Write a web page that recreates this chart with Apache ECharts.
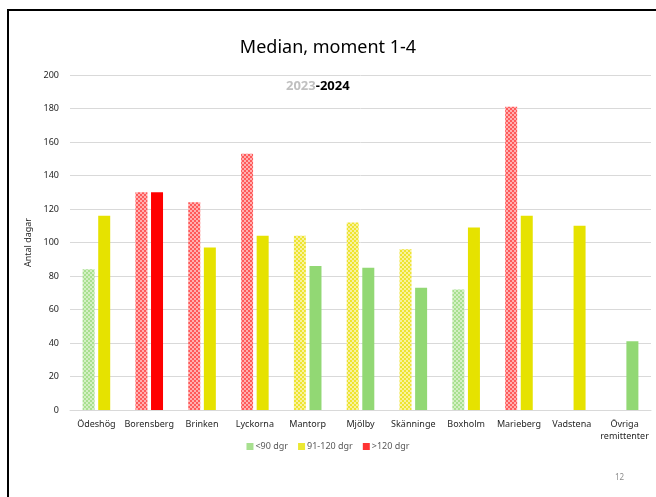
<!DOCTYPE html>
<html>
<head>
<meta charset="utf-8">
<script src="https://cdn.jsdelivr.net/npm/echarts@6/dist/echarts.min.js"></script>
<style>
    html, body { margin: 0; padding: 0; background: #fff; }
    #main { width: 656px; height: 497px; }
</style>
</head>
<body>
<div id="main"></div>
<script>
    // kategorier och värden (median antal dagar)
    const categories = ['Ödeshög', 'Borensberg', 'Brinken', 'Lyckorna', 'Mantorp', 'Mjölby',
        'Skänninge', 'Boxholm', 'Marieberg', 'Vadstena', 'Övriga\nremittenter'];
    const values2023 = [84, 130, 124, 153, 104, 112, 96, 72, 181, null, null];
    const values2024 = [116, 130, 97, 104, 86, 85, 73, 109, 116, 110, 41];
    const legendNames = ['<90 dgr', '91-120 dgr', '>120 dgr'];
    const yTicks = { min: 0, max: 200, interval: 20 };

    const FONT = '"Noto Sans", sans-serif';
    const colors = { green: '#92d874', yellow: '#e6e200', red: '#ff0000' };
    const lightColors = {
        green: ['#a8e090', '#d4f0c4'],
        yellow: ['#eee430', '#f8f2a0'],
        red: ['#ff5a5a', '#ffb0b0']
    };

    function level(v) {
        if (v < 90) return 'green';
        if (v <= 120) return 'yellow';
        return 'red';
    }

    // rutmönster för 2023-staplarna
    function pattern(key) {
        let c = document.createElement('canvas');
        c.width = 4;
        c.height = 4;
        let ctx = c.getContext('2d');
        ctx.fillStyle = lightColors[key][0];
        ctx.fillRect(0, 0, 4, 4);
        ctx.fillStyle = lightColors[key][1];
        ctx.fillRect(0, 0, 2, 2);
        ctx.fillRect(2, 2, 2, 2);
        return { image: c, repeat: 'repeat' };
    }

    const patterns = {
        green: pattern('green'),
        yellow: pattern('yellow'),
        red: pattern('red')
    };

    let data2023 = values2023.map(function (v) {
        if (v === null) return '-';
        return { value: v, itemStyle: { color: patterns[level(v)] } };
    });
    let data2024 = values2024.map(function (v) {
        if (v === null) return '-';
        return { value: v, itemStyle: { color: colors[level(v)] } };
    });

    let myChart = echarts.init(document.getElementById('main'));

    myChart.setOption({
        animation: false,
        textStyle: { fontFamily: FONT },
        title: {
            text: 'Median, moment 1-4',
            left: 'center',
            top: 34,
            textStyle: {
                fontFamily: FONT,
                fontSize: 18,
                fontWeight: 'normal',
                color: '#000'
            }
        },
        graphic: [
            {
                type: 'rect',
                shape: { x: 8, y: 10, width: 700, height: 600 },
                style: { fill: 'none', stroke: '#000', lineWidth: 2 },
                silent: true
            },
            {
                type: 'text',
                left: 286,
                top: 80,
                style: {
                    text: '{a|2023}{b|-2024}',
                    rich: {
                        a: { fontFamily: FONT, fontSize: 13, fontWeight: 'bold', fill: '#c0c0c0' },
                        b: { fontFamily: FONT, fontSize: 13, fontWeight: 'bold', fill: '#000' }
                    }
                }
            },
            {
                type: 'text',
                left: 615,
                top: 474,
                style: { text: '12', fontFamily: FONT, fontSize: 8, fill: '#8c8c8c' }
            }
        ],
        legend: {
            data: legendNames,
            top: 437,
            left: 'center',
            icon: 'rect',
            itemWidth: 7,
            itemHeight: 7,
            itemGap: 10,
            textStyle: { fontFamily: FONT, fontSize: 9, color: '#595959', padding: [0, 0, 0, -3] }
        },
        grid: {
            left: 70,
            right: 5,
            top: 75,
            bottom: 87
        },
        xAxis: {
            type: 'category',
            data: categories,
            axisLine: { lineStyle: { color: '#d9d9d9', width: 1 } },
            axisTick: { show: false },
            axisLabel: {
                interval: 0,
                fontFamily: FONT,
                fontSize: 9,
                color: '#262626',
                margin: 8,
                lineHeight: 12
            }
        },
        yAxis: {
            type: 'value',
            min: yTicks.min,
            max: yTicks.max,
            interval: yTicks.interval,
            name: 'Antal dagar',
            nameLocation: 'middle',
            nameGap: 32,
            nameTextStyle: { fontFamily: FONT, fontSize: 9, color: '#262626' },
            axisLine: { show: false },
            axisTick: { show: false },
            axisLabel: { fontFamily: FONT, fontSize: 9, color: '#262626', margin: 11 },
            splitLine: { lineStyle: { color: '#d9d9d9', width: 1 } }
        },
        series: [
            {
                name: '2023',
                type: 'bar',
                data: data2023,
                barWidth: 12,
                barGap: '30%'
            },
            {
                name: '2024',
                type: 'bar',
                data: data2024,
                barWidth: 12
            },
            // tomma serier bara för förklaringen
            { name: legendNames[0], type: 'scatter', data: [], itemStyle: { color: colors.green } },
            { name: legendNames[1], type: 'scatter', data: [], itemStyle: { color: colors.yellow } },
            { name: legendNames[2], type: 'scatter', data: [], itemStyle: { color: colors.red } }
        ]
    });
</script>
</body>
</html>
